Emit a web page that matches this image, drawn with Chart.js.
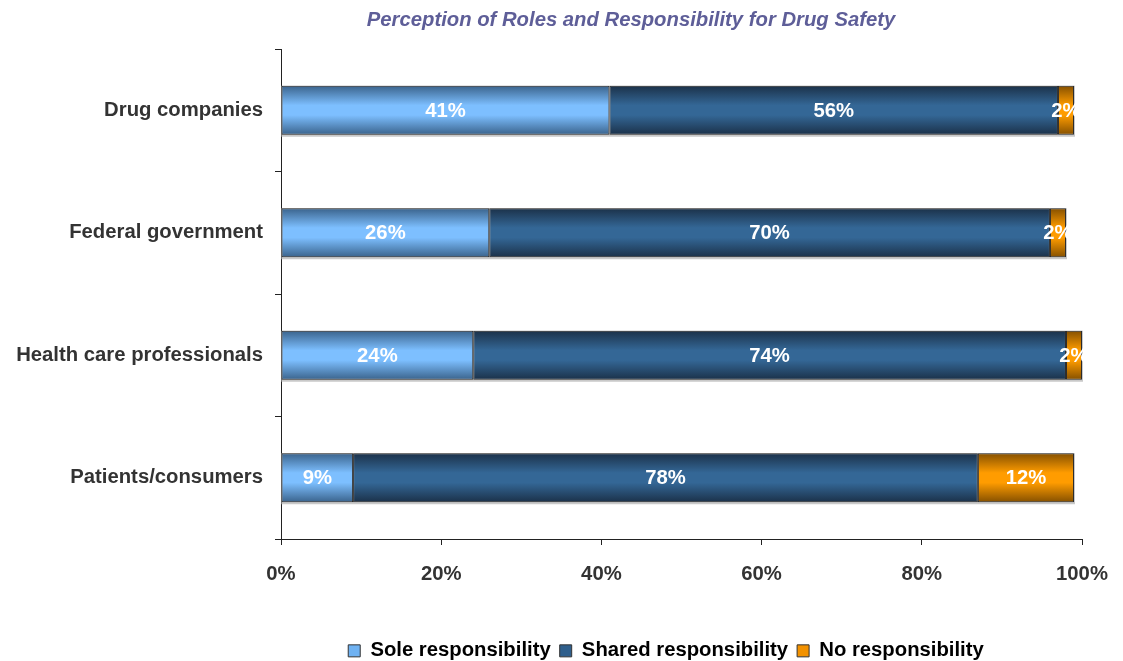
<!DOCTYPE html>
<html>
<head>
<meta charset="utf-8">
<title>Perception of Roles and Responsibility for Drug Safety</title>
<script src="https://cdn.jsdelivr.net/npm/chart.js@4.4.1/dist/chart.umd.min.js"></script>
<style>
	html, body { margin: 0; padding: 0; background: #fff; }
	#wrap { width: 1123px; height: 661px; }
</style>
</head>
<body>
<div id="wrap"><canvas id="chartRoles" width="1123" height="661"></canvas></div>
<script>
'use strict';

const titleText = 'Perception of Roles and Responsibility for Drug Safety';
const categories = ['Drug companies', 'Federal government', 'Health care professionals', 'Patients/consumers'];
const seriesNames = ['Sole responsibility', 'Shared responsibility', 'No responsibility'];
const soleValues = [41, 26, 24, 9];
const sharedValues = [56, 70, 74, 78];
const noneValues = [2, 2, 2, 12];
const xTickValues = [0, 20, 40, 60, 80, 100];

const FONT = "'Liberation Sans', Arial, sans-serif";
const FONT_SIZE = 20.3;
const BAR_PCT = 0.4;

// dark edge / light middle for each series
const palette = [
	{ dark: '#3a638c', light: '#7dbfff', flat: '#6fb2f2' },
	{ dark: '#1b3149', light: '#346796', flat: '#2f5f8c' },
	{ dark: '#855000', light: '#ff9c00', flat: '#f39200' }
];

// vertical shading across each bar, built from the category scale
const barGradient = (ctx, colors) => {
	const chart = ctx.chart;
	const yScale = chart.scales && chart.scales.y;
	if (!yScale || ctx.type !== 'data' || !chart.chartArea) {
		return colors.flat;
	}
	const cy = yScale.getPixelForValue(ctx.dataIndex);
	const half = (yScale.height / categories.length) * BAR_PCT / 2;
	const g = chart.ctx.createLinearGradient(0, cy - half, 0, cy + half);
	g.addColorStop(0, colors.dark);
	g.addColorStop(0.4, colors.light);
	g.addColorStop(0.6, colors.light);
	g.addColorStop(1, colors.dark);
	return g;
};

const makeDataset = (label, data, colors) => ({
	label: label,
	data: data,
	backgroundColor: ctx => barGradient(ctx, colors),
	borderColor: '#2b2b2b',
	borderWidth: 1,
	borderSkipped: false,
	categoryPercentage: 1,
	barPercentage: BAR_PCT
});

// grey drop shadow under each full stacked bar
const barShadow = {
	id: 'barShadow',
	beforeDatasetsDraw(chart) {
		const first = chart.getDatasetMeta(0).data;
		const last = chart.getDatasetMeta(chart.data.datasets.length - 1).data;
		const c = chart.ctx;
		c.save();
		c.fillStyle = '#c9c9c9';
		first.forEach((el, i) => {
			const right = last[i].x;
			const top = el.y - el.height / 2;
			c.fillRect(el.base, top, right - el.base + 1, el.height + 2);
		});
		c.restore();
	}
};

// percentage text centred in each segment
const segmentLabels = {
	id: 'segmentLabels',
	afterDatasetsDraw(chart) {
		const c = chart.ctx;
		c.save();
		c.font = 'bold ' + FONT_SIZE + 'px ' + FONT;
		c.fillStyle = '#ffffff';
		c.textAlign = 'center';
		c.textBaseline = 'middle';
		chart.data.datasets.forEach((ds, d) => {
			chart.getDatasetMeta(d).data.forEach((el, i) => {
				c.fillText(ds.data[i] + '%', (el.x + el.base) / 2, el.y + 1);
			});
		});
		c.restore();
	}
};

const chartTitle = {
	id: 'chartTitle',
	afterDraw(chart) {
		const c = chart.ctx;
		c.save();
		c.font = 'italic bold ' + FONT_SIZE + 'px ' + FONT;
		c.fillStyle = '#5e5e98';
		c.textAlign = 'center';
		c.textBaseline = 'middle';
		c.fillText(titleText, 631, 20);
		c.restore();
	}
};

// legend sits under the plot, right of the canvas centre
const legendShift = {
	id: 'legendShift',
	afterLayout(chart) {
		if (chart.legend) {
			chart.legend.left += 125;
			chart.legend.right += 125;
		}
	}
};

new Chart(document.getElementById('chartRoles').getContext('2d'), {
	type: 'bar',
	data: {
		labels: categories,
		datasets: [
			makeDataset(seriesNames[0], soleValues, palette[0]),
			makeDataset(seriesNames[1], sharedValues, palette[1]),
			makeDataset(seriesNames[2], noneValues, palette[2])
		]
	},
	plugins: [barShadow, segmentLabels, chartTitle, legendShift],
	options: {
		indexAxis: 'y',
		responsive: false,
		animation: false,
		layout: {
			padding: { top: 49, left: 0, right: 41, bottom: -10 }
		},
		scales: {
			x: {
				stacked: true,
				min: 0,
				max: 100,
				afterFit: scale => {
					scale.height = 92.7;
					scale.paddingLeft = 0;
					scale.paddingRight = 0;
				},
				afterBuildTicks: scale => {
					scale.ticks = xTickValues.map(v => ({ value: v }));
				},
				border: { display: true, color: '#222', width: 1 },
				grid: { drawOnChartArea: false, tickLength: 6, color: '#222' },
				ticks: {
					padding: 17,
					color: '#333',
					font: { family: FONT, size: FONT_SIZE, weight: 'bold' },
					callback: v => v + '%'
				}
			},
			y: {
				stacked: true,
				afterFit: scale => { scale.width = 281; },
				border: { display: true, color: '#222', width: 1 },
				grid: { drawOnChartArea: false, tickLength: 6, color: '#222' },
				ticks: {
					padding: 12,
					color: '#333',
					font: { family: FONT, size: FONT_SIZE, weight: 'bold' }
				}
			}
		},
		plugins: {
			title: { display: false },
			tooltip: { enabled: false },
			legend: {
				display: true,
				position: 'bottom',
				labels: {
					boxWidth: 12,
					boxHeight: 12,
					padding: 9,
					color: '#333',
					font: { family: FONT, size: FONT_SIZE, weight: 'bold' },
					generateLabels: chart => chart.data.datasets.map((ds, i) => ({
						text: ds.label,
						fillStyle: palette[i].flat,
						strokeStyle: '#333',
						lineWidth: 1,
						hidden: false,
						datasetIndex: i
					}))
				}
			}
		}
	}
});
</script>
</body>
</html>
